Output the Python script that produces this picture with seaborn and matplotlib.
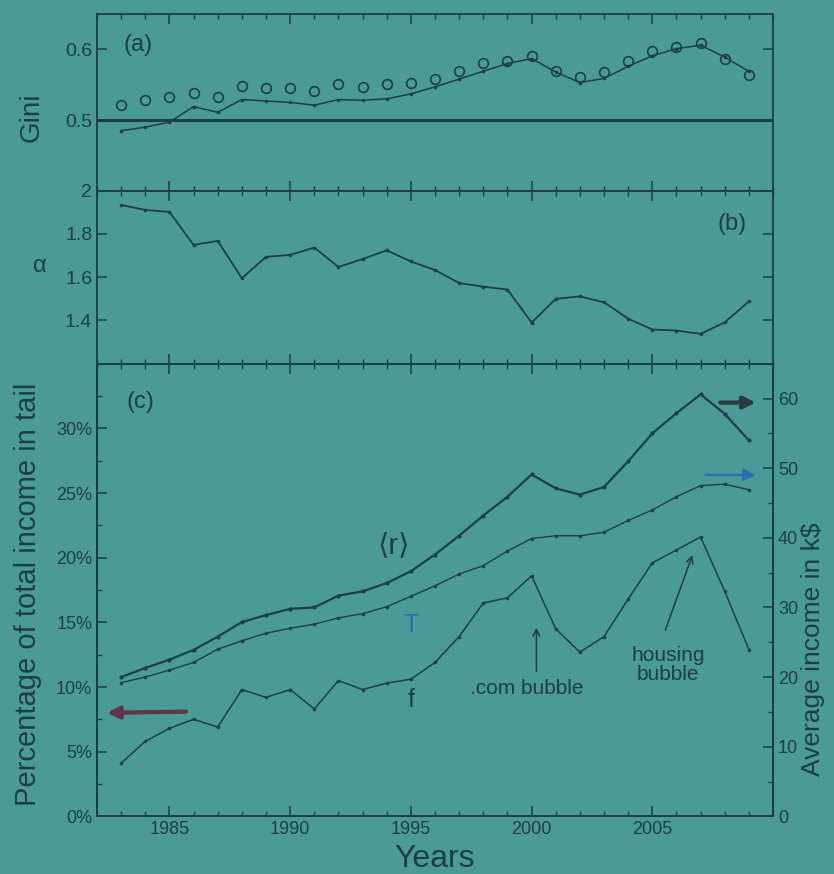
import matplotlib
matplotlib.use("Agg")
import matplotlib.pyplot as plt
import numpy as np
import pandas as pd
import seaborn as sns
from matplotlib.ticker import FixedLocator, MultipleLocator, FuncFormatter

# ---- data -------------------------------------------------------------
years = list(range(1983, 2010))

# (a) Gini coefficient: open circles and the dotted line
gini_circles = [0.521, 0.529, 0.533, 0.538, 0.533, 0.548, 0.545, 0.546, 0.541,
                0.551, 0.547, 0.551, 0.552, 0.558, 0.569, 0.581, 0.583, 0.591,
                0.570, 0.561, 0.568, 0.583, 0.598, 0.603, 0.609, 0.586, 0.564]
gini_line = [0.485, 0.490, 0.497, 0.519, 0.511, 0.529, 0.527, 0.525, 0.521,
             0.529, 0.528, 0.530, 0.537, 0.547, 0.558, 0.569, 0.580, 0.587,
             0.568, 0.553, 0.559, 0.576, 0.591, 0.601, 0.606, 0.589, 0.569]

# (b) Pareto index
alpha = [1.934, 1.911, 1.902, 1.749, 1.768, 1.595, 1.694, 1.703, 1.737,
         1.647, 1.684, 1.724, 1.673, 1.633, 1.573, 1.556, 1.543, 1.390,
         1.500, 1.511, 1.484, 1.408, 1.358, 1.353, 1.338, 1.391, 1.488]

# (c) average income <r> and temperature T (k$), tail share f (%)
mean_income = [20.0, 21.3, 22.5, 23.9, 25.8, 27.9, 28.9, 29.8, 30.0, 31.7,
               32.3, 33.5, 35.2, 37.6, 40.3, 43.2, 45.9, 49.1, 47.1, 46.2,
               47.3, 51.0, 55.0, 57.9, 60.6, 57.8, 54.0]
temperature = [19.2, 20.0, 21.0, 22.1, 24.0, 25.2, 26.3, 27.0, 27.6, 28.5,
               29.1, 30.1, 31.6, 33.1, 34.8, 36.0, 38.1, 39.9, 40.3, 40.3,
               40.8, 42.5, 44.0, 45.9, 47.5, 47.7, 46.9]
tail_share = [4.1, 5.8, 6.8, 7.5, 6.9, 9.8, 9.2, 9.8, 8.3, 10.5, 9.8, 10.3,
              10.6, 11.9, 13.9, 16.5, 16.9, 18.6, 14.5, 12.7, 13.9, 16.8,
              19.6, 20.6, 21.6, 17.4, 12.9]

year_ticks = [1985, 1990, 1995, 2000, 2005]
gini_ticks = [0.5, 0.6]
alpha_ticks = [1.4, 1.6, 1.8, 2.0]
pct_ticks = [0, 5, 10, 15, 20, 25, 30]
income_ticks = [0, 10, 20, 30, 40, 50, 60]

df = pd.DataFrame({
    "year": years,
    "gini_circles": gini_circles,
    "gini_line": gini_line,
    "alpha": alpha,
    "mean_income": mean_income,
    "temperature": temperature,
    "tail_share": tail_share,
})

# ---- style ------------------------------------------------------------
BG = "#4a9b98"
INK = "#1f3d45"
BLUE = "#2c6cb5"
MAROON = "#613447"

sns.set_theme(style="ticks")
plt.rcParams["font.family"] = ["Liberation Sans", "DejaVu Sans"]
plt.rcParams.update({
    "figure.facecolor": BG,
    "axes.facecolor": BG,
    "axes.edgecolor": INK,
    "axes.labelcolor": INK,
    "text.color": INK,
    "xtick.color": INK,
    "ytick.color": INK,
    "axes.linewidth": 1.3,
})

fig = plt.figure(figsize=(8.34, 8.74), dpi=100)
L, W = 0.1163, 0.8106
ax_a = fig.add_axes([L, 0.7818, W, 0.2021])
ax_b = fig.add_axes([L, 0.5839, W, 0.1979], sharex=ax_a)
ax_c = fig.add_axes([L, 0.0660, W, 0.5178], sharex=ax_a)
ax_r = ax_c.twinx()
ax_r.patch.set_visible(False)

# ---- (a) Gini ---------------------------------------------------------
ax_a.axhline(0.5, color=INK, lw=2.2, zorder=1)
sns.lineplot(data=df, x="year", y="gini_line", ax=ax_a, color=INK, lw=1.1,
             marker="o", markersize=2.6, markeredgewidth=0)
sns.lineplot(data=df, x="year", y="gini_circles", ax=ax_a, linestyle="none",
             marker="o", markersize=7, markerfacecolor="none",
             markeredgecolor=INK, markeredgewidth=1.2)
ax_a.set_ylim(0.4, 0.65)
ax_a.yaxis.set_major_locator(FixedLocator(gini_ticks))
ax_a.yaxis.set_major_formatter(FuncFormatter(lambda v, p: f"{v:.1f}"))
ax_a.set_ylabel("Gini", fontsize=20)
ax_a.yaxis.set_label_coords(-0.078, 0.414)
ax_a.text(0.061, 0.824, "(a)", transform=ax_a.transAxes, fontsize=17,
          ha="center", va="center")

# ---- (b) alpha --------------------------------------------------------
sns.lineplot(data=df, x="year", y="alpha", ax=ax_b, color=INK, lw=1.3,
             marker="o", markersize=2.6, markeredgewidth=0)
ax_b.set_ylim(1.2, 2.0)
ax_b.yaxis.set_major_locator(FixedLocator(alpha_ticks))
ax_b.yaxis.set_major_formatter(FuncFormatter(lambda v, p: "2" if abs(v - 2) < 1e-9 else f"{v:.1f}"))
ax_b.set_ylabel("α", fontsize=17, rotation=0)
ax_b.yaxis.set_label_coords(-0.084, 0.50)
ax_b.text(0.94, 0.81, "(b)", transform=ax_b.transAxes, fontsize=17,
          ha="center", va="center")

# ---- (c) income, temperature and tail share --------------------------
sns.lineplot(data=df, x="year", y="tail_share", ax=ax_c, color=INK, lw=1.1,
             marker="o", markersize=2.6, markeredgewidth=0)
sns.lineplot(data=df, x="year", y="mean_income", ax=ax_r, color=INK, lw=1.6,
             marker="o", markersize=3, markeredgewidth=0)
sns.lineplot(data=df, x="year", y="temperature", ax=ax_r, color=INK, lw=1.0,
             marker="o", markersize=2.6, markeredgewidth=0)

ax_c.set_ylim(0, 35)
ax_r.set_ylim(0, 65)
ax_c.yaxis.set_major_locator(FixedLocator(pct_ticks))
ax_c.yaxis.set_minor_locator(MultipleLocator(2.5))
ax_c.yaxis.set_major_formatter(FuncFormatter(lambda v, p: f"{v:.0f}%"))
ax_r.yaxis.set_major_locator(FixedLocator(income_ticks))
ax_r.yaxis.set_minor_locator(MultipleLocator(5))
ax_c.set_ylabel("Percentage of total income in tail", fontsize=21)
ax_c.yaxis.set_label_coords(-0.082, 0.49)
ax_r.set_ylabel("Average income in k$", fontsize=19)
ax_r.yaxis.set_label_coords(1.042, 0.37)
ax_c.set_xlabel("Years", fontsize=23, labelpad=4)
ax_c.text(0.064, 0.915, "(c)", transform=ax_c.transAxes, fontsize=17,
          ha="center", va="center")

# curve names
ax_c.text(1994.3, 21.0, "⟨r⟩", fontsize=21, ha="center", va="center")
ax_c.text(1995.0, 14.8, "T", fontsize=18, ha="center", va="center", color=BLUE)
ax_c.text(1995.0, 9.0, "f", fontsize=18, ha="center", va="center")

# bubble annotations
ax_c.annotate("", xy=(2000.2, 14.8), xytext=(2000.2, 11.0),
              arrowprops=dict(arrowstyle="->", color=INK, lw=1.1))
ax_c.text(1999.8, 9.9, ".com bubble", fontsize=15, ha="center", va="center")
ax_c.annotate("", xy=(2006.7, 20.4), xytext=(2005.5, 14.2),
              arrowprops=dict(arrowstyle="->", color=INK, lw=1.1))
ax_c.text(2005.65, 11.7, "housing\nbubble", fontsize=15, ha="center",
          va="center", linespacing=1.0)

# axis pointers
ax_c.annotate("", xy=(1982.3, 8.0), xytext=(1985.8, 8.1),
              arrowprops=dict(arrowstyle="-|>,head_length=0.6,head_width=0.3",
                              color=MAROON, lw=3))
ax_c.annotate("", xy=(2009.4, 32.0), xytext=(2007.7, 32.0),
              arrowprops=dict(arrowstyle="-|>,head_length=0.6,head_width=0.3",
                              color="#2a3a40", lw=3))
ax_c.annotate("", xy=(2009.4, 26.4), xytext=(2007.1, 26.4),
              arrowprops=dict(arrowstyle="-|>,head_length=0.6,head_width=0.3",
                              color=BLUE, lw=1.6))

# ---- shared x axis and ticks -----------------------------------------
ax_a.set_xlim(1982, 2010)
ax_a.xaxis.set_major_locator(FixedLocator(year_ticks))
ax_a.xaxis.set_minor_locator(MultipleLocator(1))
for ax in (ax_a, ax_b):
    ax.set_xlabel("")
    ax.tick_params(axis="x", labelbottom=False)
for ax in (ax_a, ax_b, ax_c):
    ax.tick_params(which="both", direction="in", top=True,
                   right=(ax is not ax_c), labelsize=13)
    ax.tick_params(which="major", length=7, width=1.1)
    ax.tick_params(which="minor", length=3.5, width=1.0)
ax_r.tick_params(which="both", direction="in", labelsize=13)
ax_r.tick_params(which="major", length=7, width=1.1)
ax_r.tick_params(which="minor", length=3.5, width=1.0)
ax_a.tick_params(axis="y", labelsize=14)
ax_b.tick_params(axis="y", labelsize=14)

fig.savefig("out.png", dpi=100, facecolor=BG)
